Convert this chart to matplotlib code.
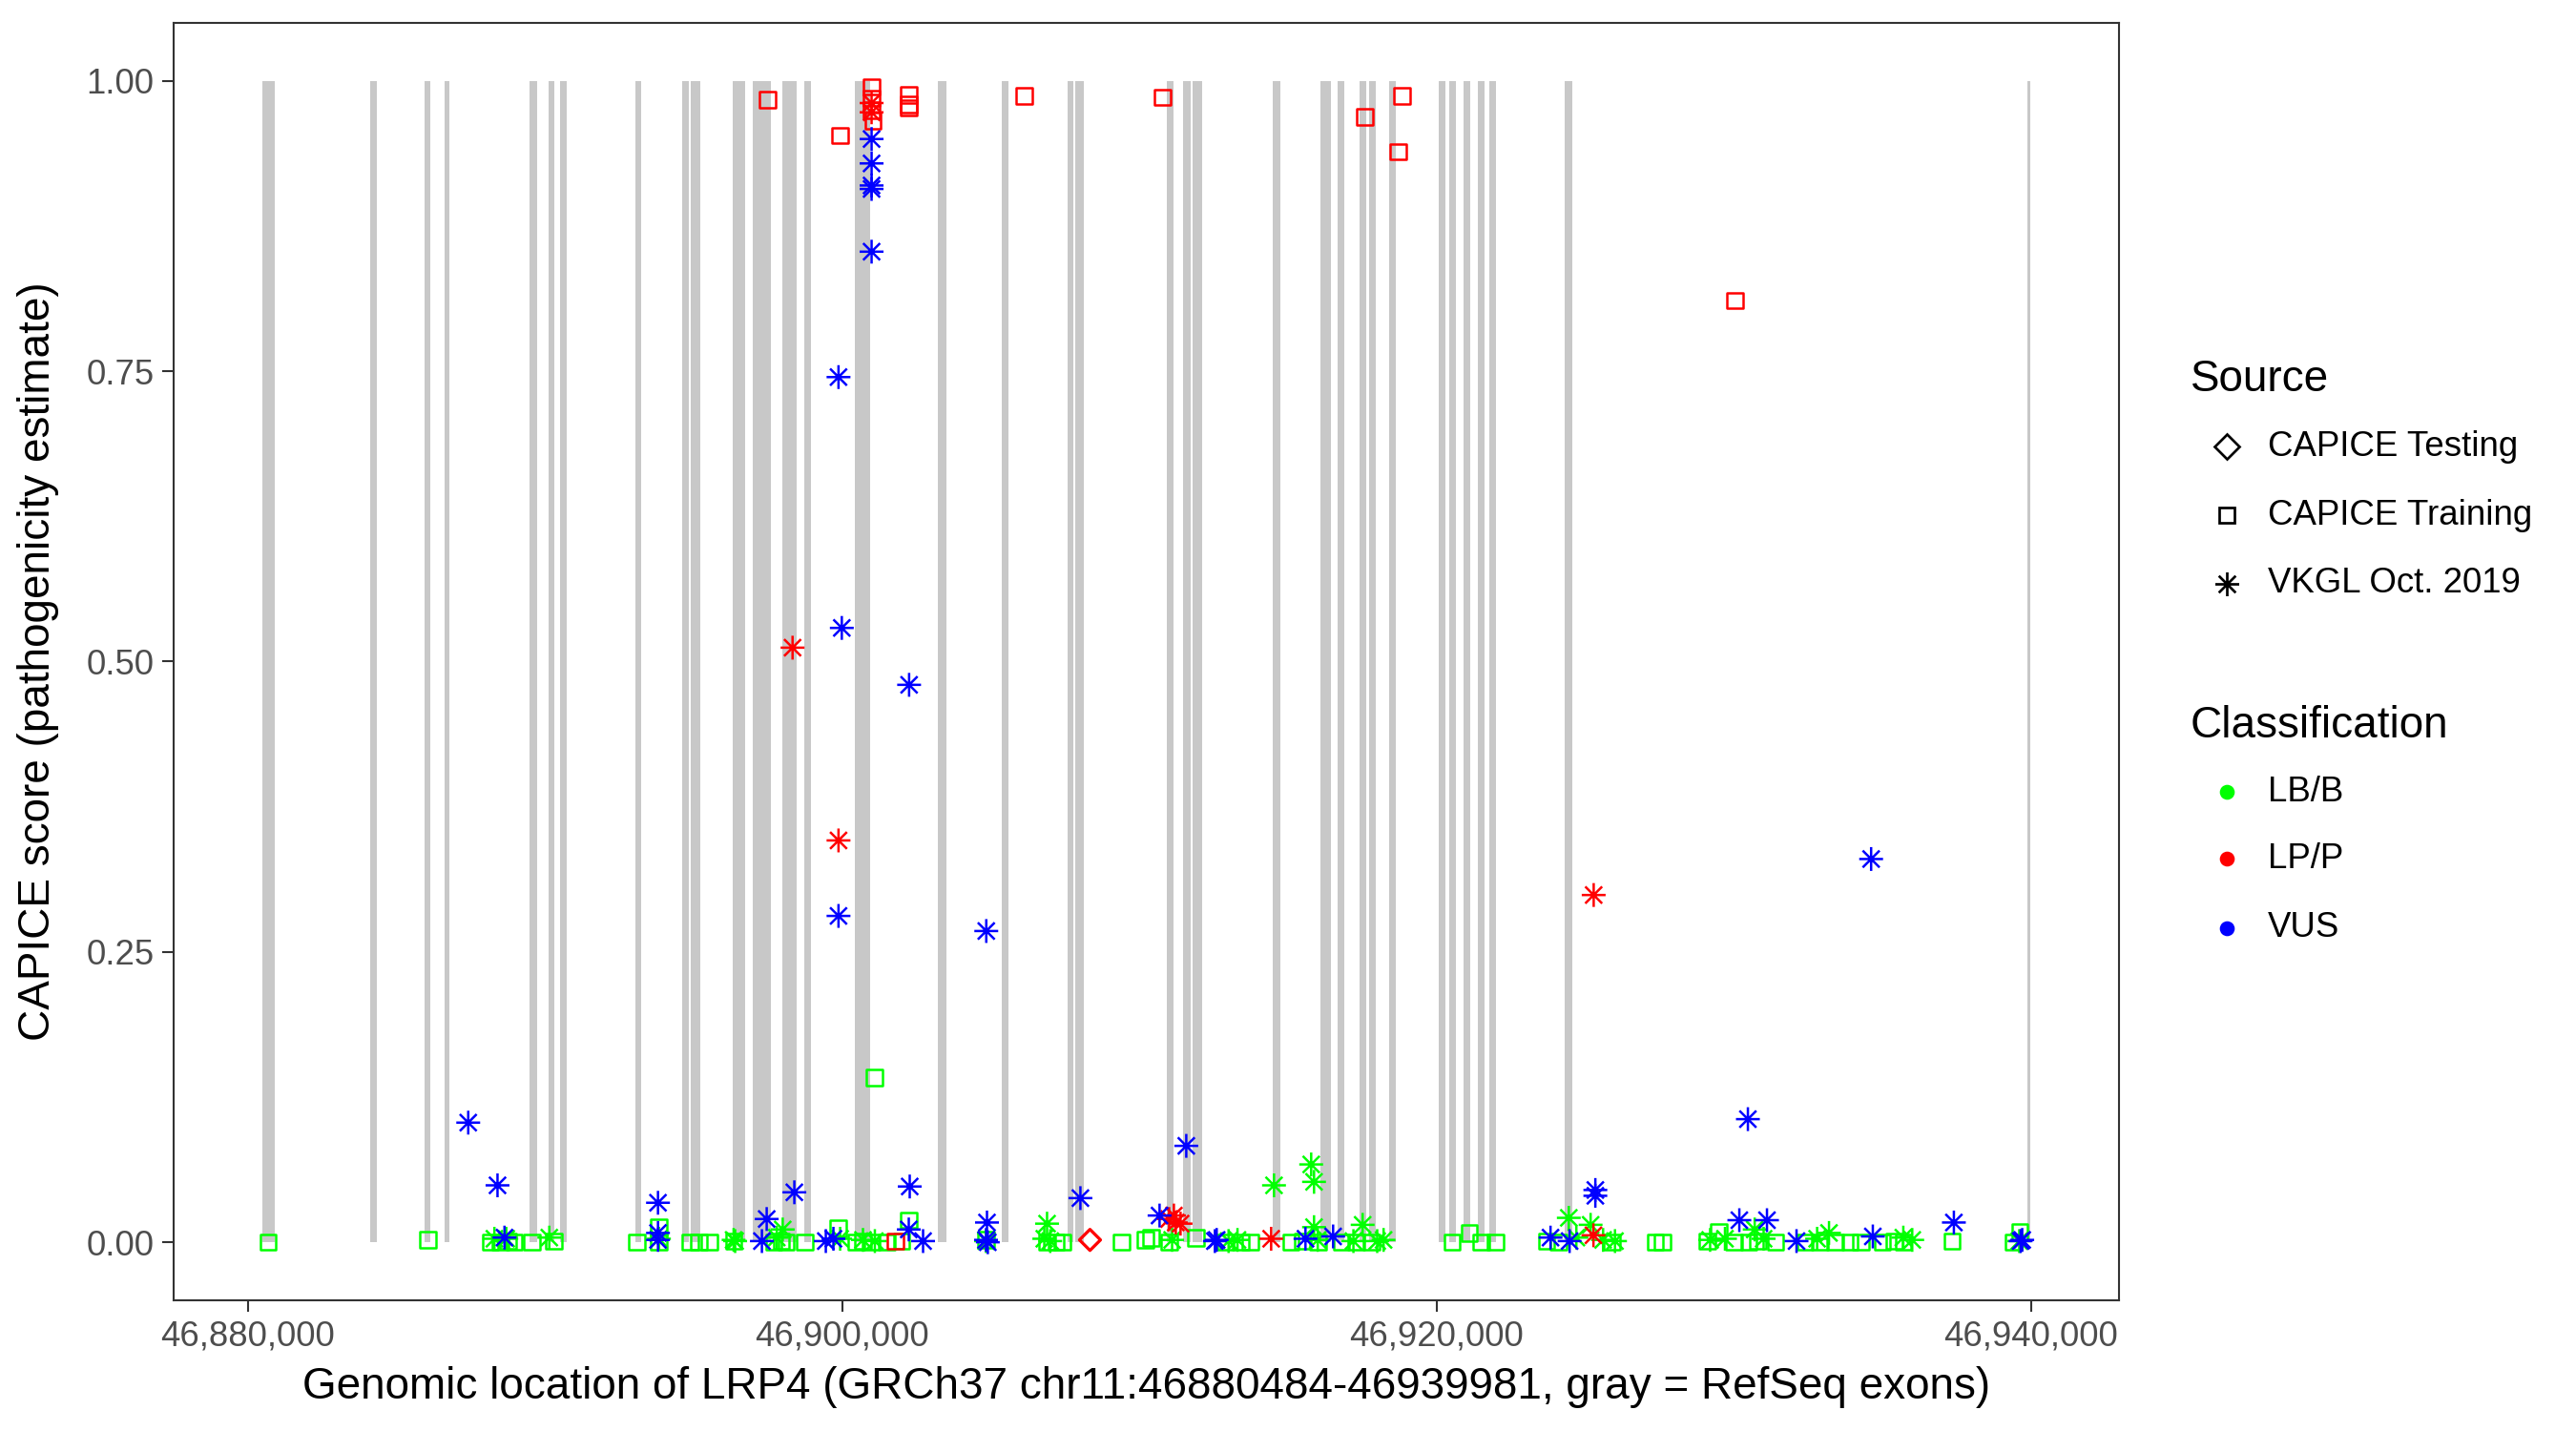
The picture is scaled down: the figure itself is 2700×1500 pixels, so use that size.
import matplotlib
matplotlib.use("Agg")
import matplotlib.pyplot as plt
from matplotlib.path import Path
from matplotlib.lines import Line2D
from matplotlib.ticker import FuncFormatter

plt.rcParams['font.family'] = ['Liberation Sans', 'DejaVu Sans']

# ---------------- data ----------------
gene_start = 46880484
gene_end = 46939981

exon_starts = [46880484, 46884116, 46885944, 46886618, 46889473, 46890115, 46890500,
               46893034, 46894606, 46894895, 46896306, 46896980, 46897975, 46898712,
               46900413, 46903204, 46905385, 46907598, 46907855, 46910935, 46911480,
               46911801, 46914496, 46916100, 46916677, 46917416, 46917736, 46918410,
               46920078, 46920430, 46920912, 46921393, 46921778, 46924313, 46939871]
exon_ends = [46880908, 46884340, 46886137, 46886778, 46889730, 46890307, 46890724,
             46893226, 46894830, 46895216, 46896723, 46897590, 46898456, 46898937,
             46900926, 46903524, 46905610, 46907791, 46908144, 46911159, 46911737,
             46912122, 46914753, 46916452, 46916902, 46917641, 46917960, 46918634,
             46920302, 46920655, 46921136, 46921618, 46922003, 46924569, 46939981]

# CAPICE Training, LB/B
train_lbb_pos = [46880683, 46886073, 46888165, 46888500, 46888750, 46888970, 46889570,
                 46890307, 46893098, 46893836, 46893836, 46894886, 46895180, 46895528,
                 46896348, 46897700, 46897950, 46898120, 46898740, 46899870, 46900480,
                 46900700, 46900990, 46901092, 46902241, 46901500, 46902000, 46904840,
                 46906900, 46907200, 46907410, 46909402, 46910204, 46910400, 46911000,
                 46911900, 46912900, 46913400, 46913722, 46915100, 46915500, 46916000,
                 46916800, 46917300, 46917800, 46920525, 46921100, 46921490, 46921970,
                 46923700, 46924100, 46925900, 46927360, 46927600, 46929100, 46929500,
                 46930000, 46930500, 46930800, 46931400, 46932400, 46932900, 46933400,
                 46933900, 46934270, 46935000, 46935400, 46935700, 46937340, 46939400,
                 46939620]
train_lbb_score = [0.000, 0.002, 0.000, 0.000, 0.001, 0.000, 0.000,
                   0.001, 0.000, 0.000, 0.013, 0.000, 0.000, 0.000,
                   0.001, 0.000, 0.001, 0.000, 0.000, 0.012, 0.000,
                   0.001, 0.000, 0.142, 0.019, 0.000, 0.001, 0.002,
                   0.000, 0.000, 0.000, 0.000, 0.002, 0.004, 0.000,
                   0.004, 0.000, 0.000, 0.000, 0.000, 0.001, 0.000,
                   0.000, 0.000, 0.000, 0.000, 0.008, 0.000, 0.000,
                   0.001, 0.000, 0.000, 0.000, 0.000, 0.001, 0.009,
                   0.000, 0.000, 0.001, 0.000, 0.000, 0.000, 0.000,
                   0.000, 0.000, 0.000, 0.001, 0.000, 0.001, 0.000,
                   0.009]

# CAPICE Training, LP/P
train_lpp_pos = [46897490, 46899932, 46900990, 46900990, 46900990, 46901040, 46902241,
                 46902241, 46902241, 46906123, 46910775, 46917575, 46918826, 46918699,
                 46930033, 46901792]
train_lpp_score = [0.984, 0.953, 0.995, 0.985, 0.975, 0.966, 0.988,
                   0.980, 0.977, 0.987, 0.986, 0.969, 0.987, 0.939,
                   0.811, 0.001]

# CAPICE Testing, LP/P
test_lpp_pos = [46908337]
test_lpp_score = [0.002]

# VKGL Oct. 2019, LB/B
vkgl_lbb_pos = [46888300, 46888700, 46890147, 46893836, 46896348, 46896400, 46897800,
                46898000, 46899932, 46900700, 46901100, 46904840, 46906893, 46906800,
                46907000, 46911100, 46913000, 46913300, 46914528, 46915779, 46915875,
                46915875, 46916000, 46917510, 46917200, 46918215, 46918000, 46924446,
                46925180, 46924700, 46925600, 46926000, 46929200, 46929700, 46930700,
                46931000, 46932800, 46933200, 46935700, 46936000, 46939600]
vkgl_lbb_score = [0.003, 0.003, 0.004, 0.003, 0.002, 0.001, 0.004,
                  0.011, 0.003, 0.002, 0.001, 0.001, 0.016, 0.003,
                  0.001, 0.002, 0.001, 0.002, 0.049, 0.067, 0.052,
                  0.013, 0.002, 0.015, 0.001, 0.002, 0.001, 0.021,
                  0.015, 0.004, 0.002, 0.001, 0.002, 0.003, 0.011,
                  0.003, 0.003, 0.008, 0.004, 0.002, 0.001]

# VKGL Oct. 2019, LP/P
vkgl_lpp_pos = [46898331, 46899877, 46925283, 46900990, 46900990, 46911000, 46911224,
                46911384, 46911160, 46914432, 46925275]
vkgl_lpp_score = [0.512, 0.346, 0.299, 0.981, 0.973, 0.020, 0.017,
                  0.016, 0.023, 0.003, 0.006]

# VKGL Oct. 2019, VUS
vkgl_vus_pos = [46900990, 46900990, 46900990, 46900990, 46900990, 46899877, 46899988,
                46902252, 46899877, 46904848, 46934617, 46930471, 46887420, 46888405,
                46888640, 46893804, 46893804, 46893804, 46911577, 46897461, 46898391,
                46897300, 46902273, 46902241, 46902722, 46904872, 46904840, 46904900,
                46908015, 46910678, 46899450, 46899706, 46912539, 46912600, 46915587,
                46916517, 46925339, 46925339, 46923831, 46924473, 46930183, 46931113,
                46932107, 46934674, 46937401, 46939646, 46939700]
vkgl_vus_score = [0.950, 0.929, 0.910, 0.907, 0.853, 0.745, 0.529,
                  0.480, 0.281, 0.268, 0.330, 0.106, 0.103, 0.049,
                  0.004, 0.034, 0.008, 0.002, 0.083, 0.020, 0.043,
                  0.001, 0.048, 0.011, 0.001, 0.017, 0.002, 0.000,
                  0.038, 0.023, 0.001, 0.003, 0.001, 0.002, 0.003,
                  0.005, 0.045, 0.040, 0.004, 0.001, 0.019, 0.019,
                  0.001, 0.005, 0.017, 0.001, 0.002]

source_labels = ["CAPICE Testing", "CAPICE Training", "VKGL Oct. 2019"]
class_labels = ["LB/B", "LP/P", "VUS"]
class_colors = {"LB/B": "#00FF00", "LP/P": "#FF0000", "VUS": "#0000FF"}

# ---------------- styling ----------------
ast_verts = [(-1, 0), (1, 0), (0, -1), (0, 1),
             (-0.707, -0.707), (0.707, 0.707), (-0.707, 0.707), (0.707, -0.707)]
ast_codes = [Path.MOVETO, Path.LINETO] * 4
asterisk = Path(ast_verts, ast_codes)

W, H = 2700, 1500
fig = plt.figure(figsize=(18, 10), dpi=150)
ax = fig.add_axes([182 / W, 1 - 1363 / H, (2221 - 182) / W, (1363 - 24) / H])

# exons
for s, e in zip(exon_starts, exon_ends):
    ax.axvspan(s, e, ymin=0.05 / 1.10, ymax=1.05 / 1.10, color="#C8C8C8", lw=0, zorder=1)

lw = 1.2
ax.scatter(train_lbb_pos, train_lbb_score, marker="s", s=64, facecolors="none",
           edgecolors=class_colors["LB/B"], linewidths=lw, zorder=3)
ax.scatter(vkgl_lbb_pos, vkgl_lbb_score, marker=asterisk, s=144, facecolors="none",
           edgecolors=class_colors["LB/B"], linewidths=lw, zorder=3)
ax.scatter(train_lpp_pos, train_lpp_score, marker="s", s=64, facecolors="none",
           edgecolors=class_colors["LP/P"], linewidths=lw, zorder=3)
ax.scatter(test_lpp_pos, test_lpp_score, marker="D", s=56, facecolors="none",
           edgecolors=class_colors["LP/P"], linewidths=lw * 1.3, zorder=3)
ax.scatter(vkgl_lpp_pos, vkgl_lpp_score, marker=asterisk, s=144, facecolors="none",
           edgecolors=class_colors["LP/P"], linewidths=lw, zorder=3)
ax.scatter(vkgl_vus_pos, vkgl_vus_score, marker=asterisk, s=144, facecolors="none",
           edgecolors=class_colors["VUS"], linewidths=lw, zorder=4)

span = gene_end - gene_start
ax.set_xlim(gene_start - 0.05 * span, gene_end + 0.05 * span)
ax.set_ylim(-0.05, 1.05)

ax.set_xticks([46880000, 46900000, 46920000, 46940000])
ax.xaxis.set_major_formatter(FuncFormatter(lambda v, p: f"{int(v):,}"))
ax.set_yticks([0, 0.25, 0.5, 0.75, 1.0])
ax.set_yticklabels(["0.00", "0.25", "0.50", "0.75", "1.00"])
ax.tick_params(axis="both", length=5.8, width=1.0, color="#333333",
               labelsize=17.5, labelcolor="#4D4D4D", pad=4)
for sp in ax.spines.values():
    sp.set_color("#333333")
    sp.set_linewidth(1.0)
ax.set_facecolor("white")

fig.text(1201.5 / W, 1 - 1454 / H,
         "Genomic location of LRP4 (GRCh37 chr11:46880484-46939981, gray = RefSeq exons)",
         ha="center", va="center", fontsize=22, color="black")
fig.text(40 / W, 1 - 693 / H, "CAPICE score (pathogenicity estimate)",
         ha="center", va="center", rotation=90, fontsize=22, color="black")

# ---------------- legends ----------------
key_x = 2334 / W
lab_x = 2377 / W
fig.text(2296 / W, 1 - 398 / H, "Source", ha="left", va="center", fontsize=22)
src_markers = [("D", 9.0), ("s", 8), (asterisk, 12)]
src_y = [468, 540, 612]
for (m, ms), yy, lab in zip(src_markers, src_y, source_labels):
    fig.add_artist(Line2D([key_x], [1 - yy / H], marker=m, markersize=ms,
                          markerfacecolor="none", markeredgecolor="black",
                          markeredgewidth=1.3, linestyle="none",
                          transform=fig.transFigure))
    fig.text(lab_x, 1 - yy / H, lab, ha="left", va="center", fontsize=17.6)

fig.text(2296 / W, 1 - 761 / H, "Classification", ha="left", va="center", fontsize=22)
cls_y = [830, 900, 973]
for yy, lab in zip(cls_y, class_labels):
    fig.add_artist(Line2D([key_x], [1 - yy / H], marker="o", markersize=6.5,
                          markerfacecolor=class_colors[lab], markeredgecolor=class_colors[lab],
                          linestyle="none", transform=fig.transFigure))
    fig.text(lab_x, 1 - yy / H, lab, ha="left", va="center", fontsize=17.6)

fig.savefig("out.png", dpi=150, facecolor="white")
